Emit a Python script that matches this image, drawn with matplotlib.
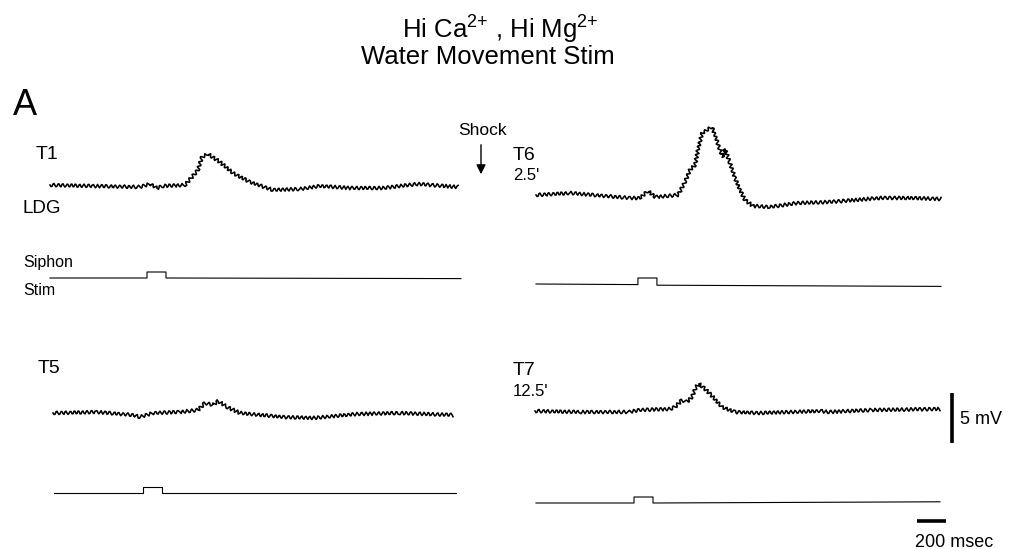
import matplotlib
matplotlib.use("Agg")
import matplotlib.pyplot as plt

plt.rcParams["font.family"] = ["Liberation Sans", "DejaVu Sans"]
plt.rcParams["mathtext.fontset"] = "custom"
plt.rcParams["mathtext.rm"] = "Liberation Sans"

W, H = 1016, 549
PX_PER_MS = 29 / 200.0   # 200 msec bar is ~29 px
PX_PER_MV = 50 / 5.0     # 5 mV bar is ~50 px
STIM_PX = 6.0            # height of the stimulus step in px

# LDG recordings, time in msec, membrane potential relative to rest in mV
t1_ms = [0, 300, 621, 690, 738, 780, 931, 979, 1021, 1048, 1090, 1172, 1262, 1379, 1538,
         1724, 1862, 2069, 2297, 2531, 2814]
t1_mv = [0.2, 0.1, 0.0, 0.3, -0.1, 0.1, 0.2, 1.0, 1.7, 3.0, 3.3, 2.5, 1.4, 0.5, -0.3,
         -0.2, 0.1, -0.1, -0.1, 0.3, 0.0]

t6_ms = [0, 234, 648, 717, 772, 821, 979, 1028, 1062, 1097, 1117, 1145, 1179, 1214, 1234,
         1269, 1290, 1303, 1338, 1372, 1407, 1441, 1497, 1614, 1800, 2028, 2372, 2600, 2793]
t6_mv = [0.1, 0.3, -0.2, -0.2, 0.5, -0.1, 0.1, 1.4, 2.6, 3.1, 4.6, 6.3, 6.6, 6.9, 6.1,
         4.6, 3.9, 4.7, 3.3, 1.8, 0.6, -0.4, -1.0, -1.1, -0.7, -0.6, -0.2, -0.2, -0.3]

t5_ms = [0, 303, 552, 600, 690, 876, 1000, 1048, 1103, 1138, 1200, 1290, 1586, 1793, 2097,
         2393, 2759]
t5_mv = [0.0, 0.1, -0.2, -0.4, 0.0, 0.1, 0.3, 1.0, 0.8, 1.2, 0.6, 0.0, -0.4, -0.5, -0.1,
         0.0, -0.2]

t7_ms = [0, 317, 648, 717, 931, 966, 1014, 1048, 1083, 1110, 1131, 1166, 1214, 1290, 1379,
         1545, 1972, 2021, 2324, 2793]
t7_mv = [0.0, -0.1, -0.1, 0.1, 0.2, 0.4, 1.1, 0.9, 1.4, 2.4, 2.7, 2.3, 1.6, 0.4, -0.1,
         -0.2, 0.0, -0.1, 0.1, 0.2]

# siphon stimulus monitor (step = 1)
s1_ms = [0, 669, 669, 800, 800, 2834]
s1_v = [0, 0, 1, 1, 0, -0.1]
s6_ms = [0, 703, 703, 834, 834, 2793]
s6_v = [0, -0.1, 1, 1, -0.2, -0.4]
s5_ms = [0, 614, 614, 745, 745, 2772]
s5_v = [0, 0, 1, 1, 0, 0]
s7_ms = [0, 676, 676, 807, 807, 2786]
s7_v = [0, 0, 1, 1, 0, 0.2]

SCALE_MV = 5
SCALE_MS = 200

fig = plt.figure(figsize=(W / 100, H / 100), dpi=100)


def trace_axes(x0, y0, t_end, lo, hi, px_per_unit):
    # x0, y0: pixel position of (t=0, value=0), measured from the top-left corner
    left = x0 / W
    width = t_end * PX_PER_MS / W
    bottom = (H - y0 + lo * px_per_unit) / H
    height = (hi - lo) * px_per_unit / H
    ax = fig.add_axes([left, bottom, width, height])
    ax.set_xlim(0, t_end)
    ax.set_ylim(lo, hi)
    ax.axis("off")
    return ax


def plot_ldg(x0, y0, t, v):
    ax = trace_axes(x0, y0, t[-1], -2, 8, PX_PER_MV)
    line, = ax.plot(t, v, color="black", lw=1.15, clip_on=False)
    # the recordings carry a fine ripple; render it as a line texture
    line.set_sketch_params(scale=1.7, length=4.5, randomness=1.3)
    return ax


def plot_stim(x0, y0, t, v):
    ax = trace_axes(x0, y0, t[-1], -1, 2, STIM_PX)
    ax.plot(t, v, color="black", lw=0.8, clip_on=False)
    return ax


plot_ldg(50, 187, t1_ms, t1_mv)
plot_stim(50, 278, s1_ms, s1_v)
plot_ldg(536, 196, t6_ms, t6_mv)
plot_stim(536, 284, s6_ms, s6_v)
plot_ldg(53, 413, t5_ms, t5_mv)
plot_stim(54, 493, s5_ms, s5_v)
ax7 = plot_ldg(535, 411, t7_ms, t7_mv)
plot_stim(536, 503, s7_ms, s7_v)

# scale bars
ax7.plot([2876, 2876], [1.8, 1.8 - SCALE_MV], color="black", lw=2.6, clip_on=False,
         solid_capstyle="butt")
ax7.plot([2634, 2634 + SCALE_MS], [-11.0, -11.0], color="black", lw=2.6, clip_on=False,
         solid_capstyle="butt")


def label(x, y, s, size, **kw):
    fig.text(x / W, 1 - y / H, s, fontsize=size, va="baseline", **kw)


label(500, 38, r"Hi Ca$^{2{+}}$ , Hi Mg$^{2{+}}$", 18.5, ha="center")
label(488, 64, "Water Movement Stim", 18.5, ha="center")
label(13, 115, "A", 26)
label(36, 159, "T1", 14)
label(23, 213, "LDG", 13.5)
label(23, 267, "Siphon", 11.5)
label(23, 295, "Stim", 11.5)
label(458, 135, "Shock", 12.5)
label(513, 160, "T6", 14)
label(513, 180, "2.5'", 12)
label(38, 373, "T5", 14)
label(513, 375, "T7", 14)
label(513, 396, "12.5'", 12)
label(960, 424, "5 mV", 13)
label(915, 547, "200 msec", 13)

fig.add_artist(plt.Annotation("", xy=(481 / W, 1 - 177 / H), xytext=(481 / W, 1 - 142 / H),
                              xycoords="figure fraction", textcoords="figure fraction",
                              arrowprops=dict(arrowstyle="-|>", lw=1.0, color="black",
                                              mutation_scale=14)))

fig.savefig("out.png", dpi=100)
